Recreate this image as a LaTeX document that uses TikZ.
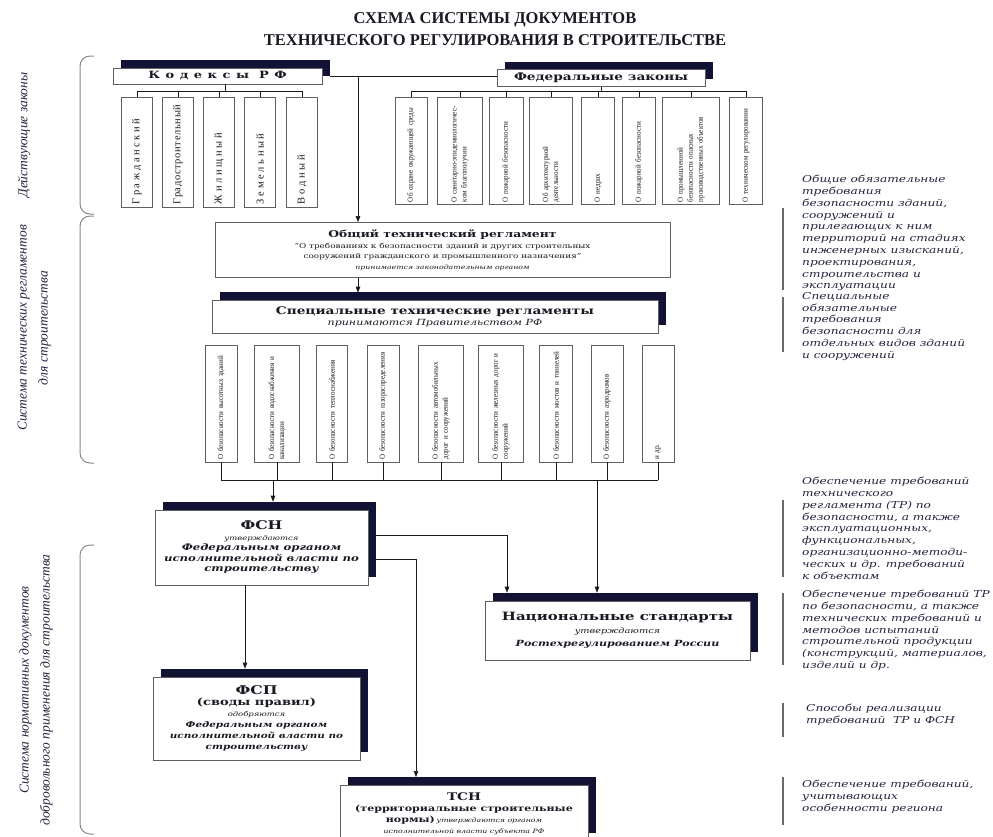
\documentclass[tikz,border=0pt]{standalone}
\usepackage{fontspec}
\setmainfont{Liberation Serif}
\newfontfamily\boxfont[FakeStretch=1.3]{DejaVu Serif}
\newfontfamily\notefont[FakeStretch=1.28]{DejaVu Serif}
\newfontfamily\lawfont[FakeStretch=0.9]{Liberation Serif}
\usetikzlibrary{arrows.meta,shadows}
\definecolor{shadowc}{RGB}{18,18,52}
\definecolor{boxline}{RGB}{95,95,100}
\definecolor{inkc}{RGB}{25,25,35}
\definecolor{notec}{RGB}{35,35,62}
\definecolor{barc}{RGB}{105,105,110}

\newcommand{\boxhd}[2]{{\boxfont\bfseries\fontsize{#1}{#1}\selectfont #2}}
\newcommand{\boxit}[2]{{\boxfont\itshape\fontsize{#1}{#1}\selectfont #2}}
\newcommand{\boxbi}[2]{{\boxfont\bfseries\itshape\fontsize{#1}{#1}\selectfont #2}}
\newcommand{\boxrm}[2]{{\boxfont\fontsize{#1}{#1}\selectfont #2}}

\tikzset{
  darkbox/.style={draw=boxline, fill=white, line width=0.6pt, align=center,
    inner sep=2pt, text=inkc,
    drop shadow={shadow xshift=8pt, shadow yshift=8pt, fill=shadowc, opacity=1}},
  plainbox/.style={draw=boxline, fill=white, line width=0.8pt, align=center,
    inner sep=2pt, text=inkc},
  lawbox/.style={draw=boxline, fill=white, line width=0.6pt, rotate=90,
    align=left, inner sep=2pt, text=inkc},
  codebox/.style={lawbox, minimum width=110pt, minimum height=31pt,
    text width=104pt, font=\fontsize{10.5}{11}\selectfont},
  fzbox/.style={lawbox, minimum width=107pt, text width=103pt,
    font=\lawfont\fontsize{7.8}{10}\selectfont},
  strbox/.style={lawbox, minimum width=117pt, text width=112pt,
    font=\lawfont\fontsize{7.8}{10}\selectfont},
  wire/.style={line width=0.6pt, draw=inkc},
  arr/.style={wire, -{Triangle[length=6pt,width=4.5pt]}},
  note/.style={anchor=north west, align=left, inner sep=0pt, text=notec,
    font=\notefont\itshape\fontsize{9.5}{11.8}\selectfont},
  notebar/.style={line width=2pt, draw=barc},
  side/.style={rotate=90, align=center, text=notec,
    font=\itshape\fontsize{13.5}{21}\selectfont},
  brace/.style={line width=1pt, draw=barc!80, rounded corners=10pt}
}

\begin{document}
\begin{tikzpicture}[x=1pt, y=-1pt]
\useasboundingbox (0,0) rectangle (993,836);

% title
\node[align=center, text=inkc, font=\bfseries\fontsize{16.5}{22}\selectfont] (title) at (495,29)
  {СХЕМА СИСТЕМЫ ДОКУМЕНТОВ\\ТЕХНИЧЕСКОГО РЕГУЛИРОВАНИЯ В СТРОИТЕЛЬСТВЕ};

% groups on the left
\draw[brace] (94,56) -- (80,56) -- (80,214) -- (94,214);
\draw[brace] (94,216) -- (80,216) -- (80,463) -- (94,463);
\draw[brace] (94,545) -- (80,545) -- (80,834) -- (94,834);
\node[side] (grp1) at (24,135) {Действующие законы};
\node[side] (grp2) at (34,328) {Система технических регламентов\\для строительства};
\node[side] (grp3) at (36,690) {Система нормативных документов\\добровольного применения для строительства};

% codes and federal laws
\node[darkbox, minimum width=209pt, minimum height=16pt] (kodeksy) at (217.5,76)
  {\boxhd{10}{\addfontfeature{LetterSpace=55}Кодексы РФ}};
\node[darkbox, minimum width=208pt, minimum height=17pt] (fz) at (601,78)
  {\boxhd{10.5}{Федеральные законы}};

\node[codebox] (k1) at (137,152) {\addfontfeature{LetterSpace=25}Гражданский};
\node[codebox] (k2) at (178,152) {\addfontfeature{LetterSpace=6}Градостроительный};
\node[codebox] (k3) at (219,152) {\addfontfeature{LetterSpace=25}Жилищный};
\node[codebox] (k4) at (260,152) {\addfontfeature{LetterSpace=25}Земельный};
\node[codebox] (k5) at (302,152) {\addfontfeature{LetterSpace=25}Водный};

\node[fzbox, minimum height=32pt] (z1) at (411,150.5) {Об охране окружающей среды};
\node[fzbox, minimum height=45pt] (z2) at (460,150.5) {О санитарно-эпидемиологичес-\\ком благополучии};
\node[fzbox, minimum height=34pt] (z3) at (506,150.5) {О пожарной безопасности};
\node[fzbox, minimum height=43pt] (z4) at (551,150.5) {Об архитектурной\\деятельности};
\node[fzbox, minimum height=33pt] (z5) at (598,150.5) {О недрах};
\node[fzbox, minimum height=33pt] (z6) at (639,150.5) {О пожарной безопасности};
\node[fzbox, minimum height=57pt] (z7) at (691,150.5) {О промышленной\\безопасности опасных\\производственных объектов};
\node[fzbox, minimum height=33pt] (z8) at (746,150.5) {О техническом регулировании};

\coordinate (kbus) at (225,91);
\draw[wire] (kodeksy.south -| kbus) -- (kbus);
\draw[wire] (k1.east |- kbus) -- (k5.east |- kbus);
\foreach \b in {k1,k2,k3,k4,k5} \draw[wire] (\b.east |- kbus) -- (\b.east);

\coordinate (zbus) at (601,91);
\draw[wire] (fz.south) -- (fz.south |- zbus);
\draw[wire] (z1.east |- zbus) -- (z8.east |- zbus);
\foreach \b in {z1,z2,z3,z4,z5,z6,z7,z8} \draw[wire] (\b.east |- zbus) -- (\b.east);

% technical regulations
\node[plainbox, minimum width=455pt, minimum height=55pt, font=\fontsize{7}{10.5}\selectfont] (obsh) at (442.5,250)
  {\boxhd{9.5}{Общий технический регламент}\\
   \boxrm{6.8}{“О требованиях к безопасности зданий и других строительных}\\
   \boxrm{6.8}{сооружений гражданского и промышленного назначения”}\\
   \boxit{6}{принимается законодательным органом}};
\node[darkbox, minimum width=446pt, minimum height=33pt, font=\fontsize{7}{11}\selectfont] (spec) at (435,316.5)
  {\boxhd{10.5}{Специальные технические регламенты}\\
   \boxit{8.5}{принимаются Правительством РФ}};

\coordinate (jn) at (358,76);
\draw[wire] ([xshift=8pt]kodeksy.east) -- (kodeksy.east -| fz.west);
\draw[arr] (jn) -- (obsh.north -| jn);
\draw[arr] (obsh.south -| jn) -- ([yshift=7pt]spec.north -| jn);

\node[strbox, minimum height=32pt] (s1) at (221,403.5) {О безопасности высотных зданий};
\node[strbox, minimum height=45pt] (s2) at (277,403.5) {О безопасности водоснабжения и\\канализации};
\node[strbox, minimum height=31pt] (s3) at (332,403.5) {О безопасности теплоснабжения};
\node[strbox, minimum height=32pt] (s4) at (383,403.5) {О безопасности газораспределения};
\node[strbox, minimum height=45pt] (s5) at (441,403.5) {О безопасности автомобильных\\дорог и сооружений};
\node[strbox, minimum height=45pt] (s6) at (501,403.5) {О безопасности железных дорог и\\сооружений};
\node[strbox, minimum height=33pt] (s7) at (556,403.5) {О безопасности мостов и тоннелей};
\node[strbox, minimum height=32pt] (s8) at (607,403.5) {О безопасности аэродромов};
\node[strbox, minimum height=32pt] (s9) at (658,403.5) {и др.};

\coordinate (sbus) at (0,480);
\draw[wire] (s1.west |- sbus) -- (s9.west |- sbus);
\foreach \b in {s1,s2,s3,s4,s5,s6,s7,s8,s9} \draw[wire] (\b.west) -- (\b.west |- sbus);

% voluntary documents
\node[darkbox, minimum width=213pt, minimum height=75pt, font=\fontsize{7}{10.5}\selectfont] (fsn) at (261.5,547.5)
  {\boxhd{12}{ФСН}\\ \boxit{6.5}{утверждаются}\\ \boxbi{9}{Федеральным органом}\\
   \boxbi{9}{исполнительной власти по}\\ \boxbi{9}{строительству}};
\node[darkbox, minimum width=265pt, minimum height=59pt, font=\fontsize{7}{13}\selectfont] (nat) at (617.5,630.5)
  {\boxhd{11.5}{Национальные стандарты}\\ \boxit{7.5}{утверждаются}\\ \boxbi{8.5}{Ростехрегулированием России}};
\node[darkbox, minimum width=207pt, minimum height=83pt, font=\fontsize{7}{11}\selectfont] (fsp) at (256.5,718.5)
  {\boxhd{12}{ФСП}\\ \boxhd{10}{(своды правил)}\\ \boxit{6.5}{одобряются}\\ \boxbi{8}{Федеральным органом}\\
   \boxbi{8}{исполнительной власти по}\\ \boxbi{8}{строительству}};
\node[darkbox, anchor=north, minimum width=248pt, minimum height=56pt, font=\fontsize{7}{11}\selectfont] (tsn) at (464,785)
  {\boxhd{10.5}{ТСН}\\ \boxhd{8.5}{(территориальные строительные}\\
   \boxhd{8.5}{нормы)} \boxit{6}{утверждаются органом}\\ \boxit{6}{исполнительной власти субъекта РФ}};

\coordinate (b1) at (273,480);
\coordinate (b2) at (597,480);
\coordinate (r1) at (507,535);
\coordinate (r2) at (416,559);
\coordinate (d1) at (245,600);
\draw[arr] (b1) -- ([yshift=8pt]fsn.north -| b1);
\draw[arr] (b2) -- ([yshift=8pt]nat.north -| b2);
\draw[arr] ([xshift=8pt]fsn.east |- r1) -- (r1) -- ([yshift=8pt]nat.north -| r1);
\draw[arr] ([xshift=8pt]fsn.east |- r2) -- (r2) -- ([yshift=8pt]tsn.north -| r2);
\draw[arr] (fsn.south -| d1) -- ([yshift=8pt]fsp.north -| d1);

% notes on the right
\draw[notebar] (783,208) -- (783,290);
\node[note] (n1) at (802,175) {Общие обязательные\\требования\\безопасности зданий,\\сооружений и\\прилегающих к ним\\территорий на стадиях\\инженерных изысканий,\\проектирования,\\строительства и\\эксплуатации};
\draw[notebar] (783,297) -- (783,352);
\node[note] (n2) at (802,292) {Специальные\\обязательные\\требования\\безопасности для\\отдельных видов зданий\\и сооружений};
\draw[notebar] (783,500) -- (783,577);
\node[note] (n3) at (802,477) {Обеспечение требований\\технического\\регламента (ТР) по\\безопасности, а также\\эксплуатационных,\\функциональных,\\организационно-методи-\\ческих и др. требований\\к объектам};
\draw[notebar] (783,593) -- (783,665);
\node[note] (n4) at (802,590) {Обеспечение требований ТР\\по безопасности, а также\\технических требований и\\методов испытаний\\строительной продукции\\(конструкций, материалов,\\изделий и др.};
\draw[notebar] (783,703) -- (783,737);
\node[note] (n5) at (806,704) {Способы реализации\\требований\ \ ТР и ФСН};
\draw[notebar] (783,777) -- (783,825);
\node[note] (n6) at (802,780) {Обеспечение требований,\\учитывающих\\особенности региона};
\end{tikzpicture}
\end{document}
